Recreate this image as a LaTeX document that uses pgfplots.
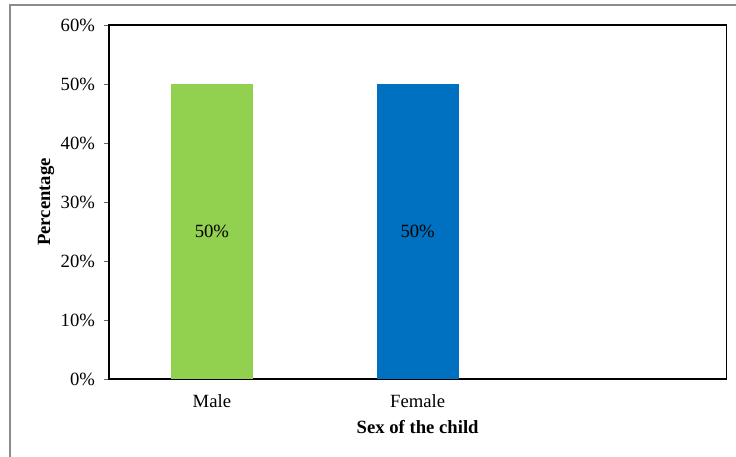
\documentclass[border=0pt]{standalone}
\usepackage{pgfplots}
\pgfplotsset{compat=1.18}
\usepackage{fontspec}
\setmainfont{Liberation Serif}
\definecolor{malegreen}{HTML}{92D050}
\definecolor{femaleblue}{HTML}{0070C0}
\begin{document}
\begin{tikzpicture}[x=0.75pt,y=0.75pt]
\useasboundingbox (0,0) rectangle (736,457);
\fill[white] (0,0) rectangle (736,457);
\draw[black!45,line width=0.9pt] (10,-2) -- (10,452) -- (738,452);
\begin{axis}[
  at={(109pt*0.75,78pt*0.75)}, anchor=south west,
  scale only axis,
  width=463pt, height=265.5pt,
  ymin=0, ymax=60,
  ytick={0,10,...,60},
  ytick pos=left,
  yticklabel={\pgfmathprintnumber{\tick}\%},
  xmin=-0.5, xmax=2.5,
  xtick={0,1},
  xticklabels={Male,Female},
  xtick style={draw=none},
  ytick style={black!60, line width=0.6pt},
  tick align=outside,
  major tick length=4pt,
  axis line style={black, line width=0.9pt},
  /pgf/number format/assume math mode=true,
  tick label style={font=\fontsize{14}{16}\selectfont},
  yticklabel style={xshift=-3pt},
  xticklabel style={yshift=-4pt},
  ylabel={\textbf{Percentage}},
  xlabel={\textbf{Sex of the child}},
  label style={font=\fontsize{14}{16}\selectfont},
  ylabel style={yshift=-2pt},
  xlabel style={yshift=-2.5pt},
  ybar, bar width=61.5pt, bar shift=0pt,
  nodes near coords={\pgfmathprintnumber{\pgfplotspointmeta}\%},
  every node near coord/.append style={anchor=center, yshift=-110.25pt, font=\fontsize{14}{16}\selectfont, black},
]
\addplot[fill=malegreen, draw=none] coordinates {(0,50)};
\addplot[fill=femaleblue, draw=none] coordinates {(1,50)};
\end{axis}
\end{tikzpicture}
\end{document}
